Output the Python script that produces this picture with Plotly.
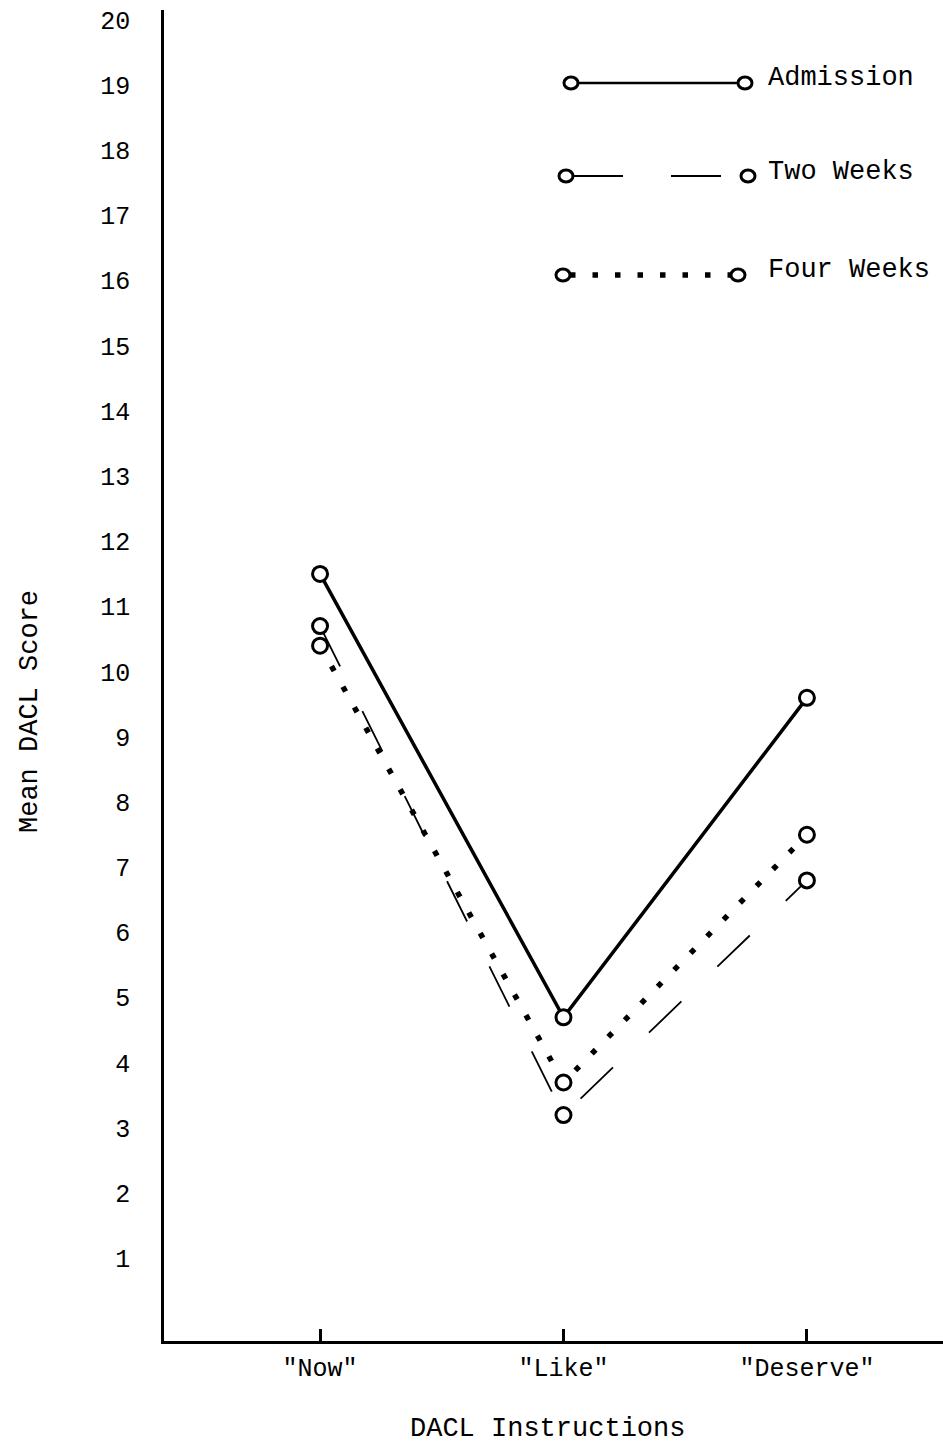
import plotly.graph_objects as go

# ---- data ----
categories = ['"Now"', '"Like"', '"Deserve"']
admission = [11.5, 4.7, 9.6]
two_weeks = [10.7, 3.2, 6.8]
four_weeks = [10.4, 3.7, 7.5]
series_names = ["Admission", "Two Weeks", "Four Weeks"]
y_ticks = list(range(1, 21))

W, H = 943, 1445
ML, MR, MT, MB = 164, 0, 10, 104
PW, PH = W - ML - MR, H - MT - MB
FONT = "Liberation Mono, Courier New, monospace"

def px(x):
    # x in window pixels -> paper coordinate
    return (x - ML) / PW

def py(y):
    # y in window pixels -> paper coordinate
    return (H - MB - y) / PH

xs = list(range(len(categories)))

fig = go.Figure()
marker = dict(symbol="circle", size=15, color="white", line=dict(color="black", width=3))

fig.add_trace(go.Scatter(x=xs, y=admission, mode="lines+markers", name=series_names[0],
                         line=dict(color="black", width=3.5), marker=marker))
fig.add_trace(go.Scatter(x=xs, y=two_weeks, mode="lines+markers", name=series_names[1],
                         line=dict(color="black", width=1.8, dash="45px,50px"), marker=marker))
fig.add_trace(go.Scatter(x=xs, y=four_weeks, mode="lines+markers", name=series_names[2],
                         line=dict(color="black", width=5.5, dash="5.5px,18px"), marker=marker))

# ---- legend drawn as decoration ----
shapes = []
annotations = []
legend_rows = [
    (83, 571, 745, "solid", 2.5, 78),
    (176, 566, 748, "50px,48px", 1.8, 172),
    (275, 563, 738, "5.5px,17px", 5.5, 270),
]
for name, (ly, xa, xb, dash, lw, ty) in zip(series_names, legend_rows):
    shapes.append(dict(type="line", xref="paper", yref="paper",
                       x0=px(xa + 7), x1=px(xb - 7), y0=py(ly), y1=py(ly),
                       line=dict(color="black", width=lw, dash=dash), layer="below"))
    for cx in (xa, xb):
        shapes.append(dict(type="circle", xref="paper", yref="paper",
                           xsizemode="pixel", ysizemode="pixel",
                           xanchor=px(cx), yanchor=py(ly),
                           x0=-7, x1=7, y0=-6, y1=6,
                           line=dict(color="black", width=3), fillcolor="white"))
    annotations.append(dict(text=name, xref="paper", yref="paper", x=px(766), y=py(ty),
                            xanchor="left", yanchor="middle", showarrow=False,
                            font=dict(family=FONT, size=27, color="black")))

annotations.append(dict(text="Mean DACL Score", xref="paper", yref="paper",
                        x=px(30), y=py(712), xanchor="center", yanchor="middle",
                        textangle=-90, showarrow=False,
                        font=dict(family=FONT, size=27, color="black")))
annotations.append(dict(text="DACL Instructions", xref="paper", yref="paper",
                        x=px(547), y=py(1429), xanchor="center", yanchor="middle",
                        showarrow=False, font=dict(family=FONT, size=27, color="black")))

fig.update_layout(
    width=W, height=H,
    margin=dict(l=ML, r=MR, t=MT, b=MB),
    paper_bgcolor="white", plot_bgcolor="white",
    showlegend=False,
    font=dict(family=FONT, size=25, color="black"),
    shapes=shapes, annotations=annotations,
    xaxis=dict(range=[-0.641, 2.559], tickvals=xs, ticktext=categories,
               showgrid=False, zeroline=False, showline=True, linecolor="black", linewidth=2.5,
               ticks="inside", ticklen=12, tickwidth=2.5, tickcolor="black",
               ticklabelstandoff=2, tickfont=dict(family=FONT, size=25, color="black")),
    yaxis=dict(range=[-0.265, 20.15], tickvals=y_ticks, ticktext=[str(v) for v in y_ticks],
               showgrid=False, zeroline=False, showline=True, linecolor="black", linewidth=2.5,
               ticks="", ticklabelstandoff=26, ticklabeloverflow="allow",
               tickfont=dict(family=FONT, size=25, color="black")),
)

fig.write_html(
    "out.html",
    config={"displayModeBar": False},
    post_script=(
        "document.documentElement.style.margin='0';"
        "document.documentElement.style.overflow='hidden';"
        "document.body.style.margin='0';"
        "document.body.style.overflow='hidden';"
    ),
)
